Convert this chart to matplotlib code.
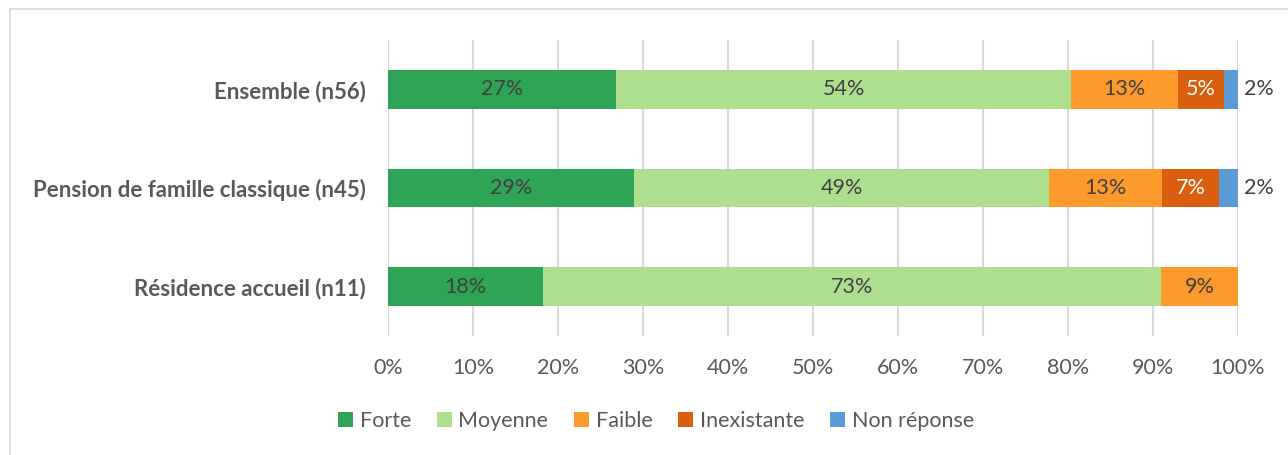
import matplotlib.pyplot as plt
from matplotlib.patches import Rectangle

plt.rcParams['font.family'] = ['Lato', 'DejaVu Sans']

categories = ["Ensemble (n56)", "Pension de famille classique (n45)", "Résidence accueil (n11)"]
series = ["Forte", "Moyenne", "Faible", "Inexistante", "Non réponse"]
forte = [26.8, 28.9, 18.2]
moyenne = [53.6, 48.9, 72.7]
faible = [12.5, 13.3, 9.1]
inexistante = [5.4, 6.7, 0]
non_reponse = [1.8, 2.2, 0]
colors = ["#2fa457", "#addf8f", "#fd9a2e", "#d95f0e", "#5b9bd5"]
text_colors = ["#404040", "#404040", "#404040", "white", "#404040"]

values = [forte, moyenne, faible, inexistante, non_reponse]

fig = plt.figure(figsize=(12.88, 4.55), dpi=100)
fig.patches.append(Rectangle((10/1288, -0.1), 1.2, (455-9)/455 + 0.1, transform=fig.transFigure,
                             fill=False, edgecolor="#d9d9d9", linewidth=1.2))
ax = fig.add_axes([388/1288, (455-336)/455, 850/1288, 296/455])

y = list(range(len(categories)))
left = [0.0] * len(categories)
for k, (name, vals) in enumerate(zip(series, values)):
    ax.barh(y, vals, left=left, height=0.39, color=colors[k], label=name, zorder=3)
    for i, v in enumerate(vals):
        if v <= 0:
            continue
        lab = "%d%%" % int(v + 0.5)
        if name == "Non réponse":
            ax.text(100 + 2.4, i, lab, va="center", ha="center",
                    fontsize=15.5, color="#404040")
        else:
            ax.text(left[i] + v / 2, i, lab, va="center", ha="center",
                    fontsize=15.5, color=text_colors[k], zorder=4)
        left[i] += v

ax.set_xlim(0, 100)
ax.set_ylim(2.5, -0.5)
ax.set_xticks(range(0, 101, 10))
ax.set_xticklabels(["%d%%" % t for t in range(0, 101, 10)], fontsize=15.5, color="#595959")
ax.set_yticks(y)
ax.set_yticklabels(categories, fontsize=16, fontweight="bold", color="#595959")
ax.tick_params(axis="both", length=0)
ax.tick_params(axis="x", pad=16)
ax.tick_params(axis="y", pad=16)
ax.grid(axis="x", color="#d9d9d9", linewidth=1.5, zorder=0)
for s in ax.spines.values():
    s.set_visible(False)

fig.legend(loc="center", bbox_to_anchor=(656/1288, (455-421)/455), ncol=5, frameon=False,
           fontsize=15.5, handlelength=0.7, handleheight=0.7, handletextpad=0.3,
           columnspacing=1.2, labelcolor="#595959")

fig.savefig("out.png", dpi=100)
